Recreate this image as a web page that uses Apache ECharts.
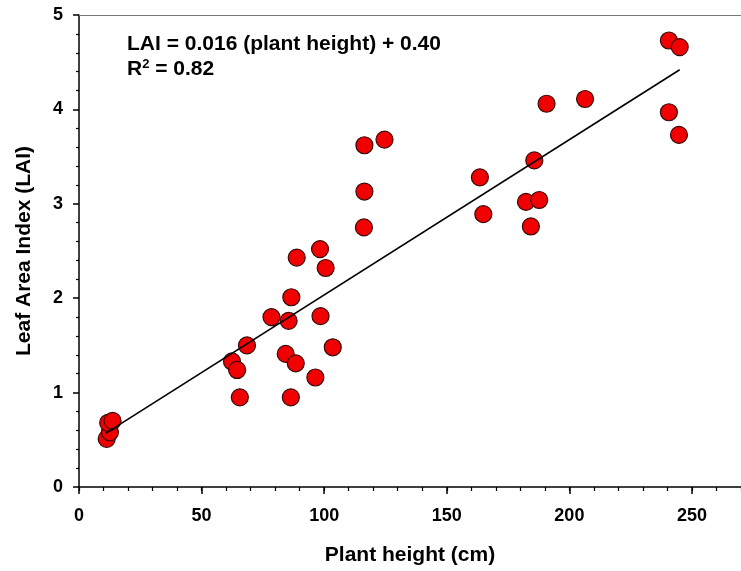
<!DOCTYPE html>
<html>
<head>
<meta charset="utf-8">
<script src="https://cdn.jsdelivr.net/npm/echarts@6/dist/echarts.min.js"></script>
<style>
  html, body { margin: 0; padding: 0; background: #fff; }
  #chart { width: 741px; height: 571px; }
</style>
</head>
<body>
<div id="chart"></div>
<script>
// values
const plantHeight = [11.3, 12.6, 11.9, 13.7, 62.4, 64.5, 65.6, 68.5, 78.5, 84.3, 85.5, 86.4,
  86.6, 88.4, 88.8, 96.4, 98.3, 98.5, 100.6, 103.5, 116.2, 116.4, 116.4, 124.6,
  163.5, 164.9, 182.3, 184.3, 185.7, 187.7, 190.7, 206.4, 240.6, 245.0, 240.6, 244.7]
const laiValues = [0.51, 0.58, 0.68, 0.70, 1.33, 1.24, 0.95, 1.50, 1.80, 1.41, 1.76, 0.95,
  2.01, 1.31, 2.43, 1.16, 2.52, 1.81, 2.32, 1.48, 2.75, 3.13, 3.62, 3.68,
  3.28, 2.89, 3.02, 2.76, 3.46, 3.04, 4.06, 4.11, 4.73, 4.66, 3.97, 3.73]
// fitted line, drawn end points
const fitX = [11, 245]
const fitY = [0.57, 4.42]

const xTicks = [0, 50, 100, 150, 200, 250]
const yTicks = [0, 1, 2, 3, 4, 5]

const FONT = '"Liberation Sans", Arial, sans-serif'

const chart = echarts.init(document.getElementById('chart'), null, { renderer: 'canvas' })

const points = plantHeight.map((h, i) => [h, laiValues[i]])
const fitLine = fitX.map((x, i) => [x, fitY[i]])

const labelStyle = {
    color: '#000',
    fontFamily: FONT,
    fontWeight: 'bold',
    fontSize: 18
}

const option = {
    animation: false,
    backgroundColor: '#fff',
    grid: { left: 79, top: 15, right: 0, bottom: 83 },
    xAxis: [
        {
            type: 'value', position: 'bottom', min: 0, max: 270, interval: 50,
            name: 'Plant height (cm)', nameLocation: 'middle', nameGap: 58,
            nameTextStyle: { color: '#000', fontFamily: FONT, fontWeight: 'bold', fontSize: 21 },
            axisLine: { onZero: false, lineStyle: { color: '#000', width: 1.5 } },
            axisTick: { length: 7, lineStyle: { color: '#000', width: 1.5 } },
            axisLabel: Object.assign({ margin: 20, showMaxLabel: false,
                formatter: v => xTicks.indexOf(v) >= 0 ? String(v) : '' }, labelStyle),
            splitLine: { show: false }
        },
        {
            // minor ticks every 10
            type: 'value', position: 'bottom', min: 0, max: 270, interval: 10,
            axisLine: { show: false, onZero: false },
            axisTick: { length: 4, lineStyle: { color: '#000', width: 1.2 } },
            axisLabel: { show: false },
            splitLine: { show: false }
        },
        {
            // top frame line
            type: 'value', position: 'top', min: 0, max: 270,
            axisLine: { onZero: false, lineStyle: { color: '#777', width: 1 } },
            axisTick: { show: false },
            axisLabel: { show: false },
            splitLine: { show: false }
        }
    ],
    yAxis: {
        type: 'value', position: 'left', min: 0, max: 5, interval: 1,
        name: 'Leaf Area Index (LAI)', nameLocation: 'middle', nameGap: 44,
        nameTextStyle: { color: '#000', fontFamily: FONT, fontWeight: 'bold', fontSize: 21 },
        axisLine: { show: true, onZero: false, lineStyle: { color: '#000', width: 1.5 } },
        axisTick: { show: true, length: 6, lineStyle: { color: '#000', width: 1.5 } },
        minorTick: { show: true, splitNumber: 5, length: 3, lineStyle: { color: '#000', width: 1.2 } },
        axisLabel: Object.assign({ margin: 16,
            formatter: v => yTicks.indexOf(v) >= 0 ? String(v) : '' }, labelStyle),
        splitLine: { show: false }
    },
    series: [
        {
            type: 'scatter',
            data: points,
            symbol: 'circle',
            symbolSize: 17,
            itemStyle: { color: '#f00000', borderColor: '#3a0a0a', borderWidth: 1.2, opacity: 1 },
            z: 2
        },
        {
            type: 'line',
            data: fitLine,
            symbol: 'none',
            lineStyle: { color: '#000', width: 1.6 },
            z: 3
        }
    ],
    graphic: [
        {
            type: 'text', left: 127, top: 34,
            style: {
                text: 'LAI = 0.016 (plant height) + 0.40',
                fill: '#000',
                font: 'bold 21px ' + FONT
            }
        },
        {
            type: 'text', left: 127, top: 58,
            style: {
                text: 'R{sup|2} = 0.82',
                fill: '#000',
                font: 'bold 21px ' + FONT,
                rich: {
                    sup: { fontSize: 13, fontWeight: 'bold', fontFamily: FONT, padding: [0, 0, 10, 0] }
                }
            }
        }
    ]
}

chart.setOption(option)
</script>
</body>
</html>
